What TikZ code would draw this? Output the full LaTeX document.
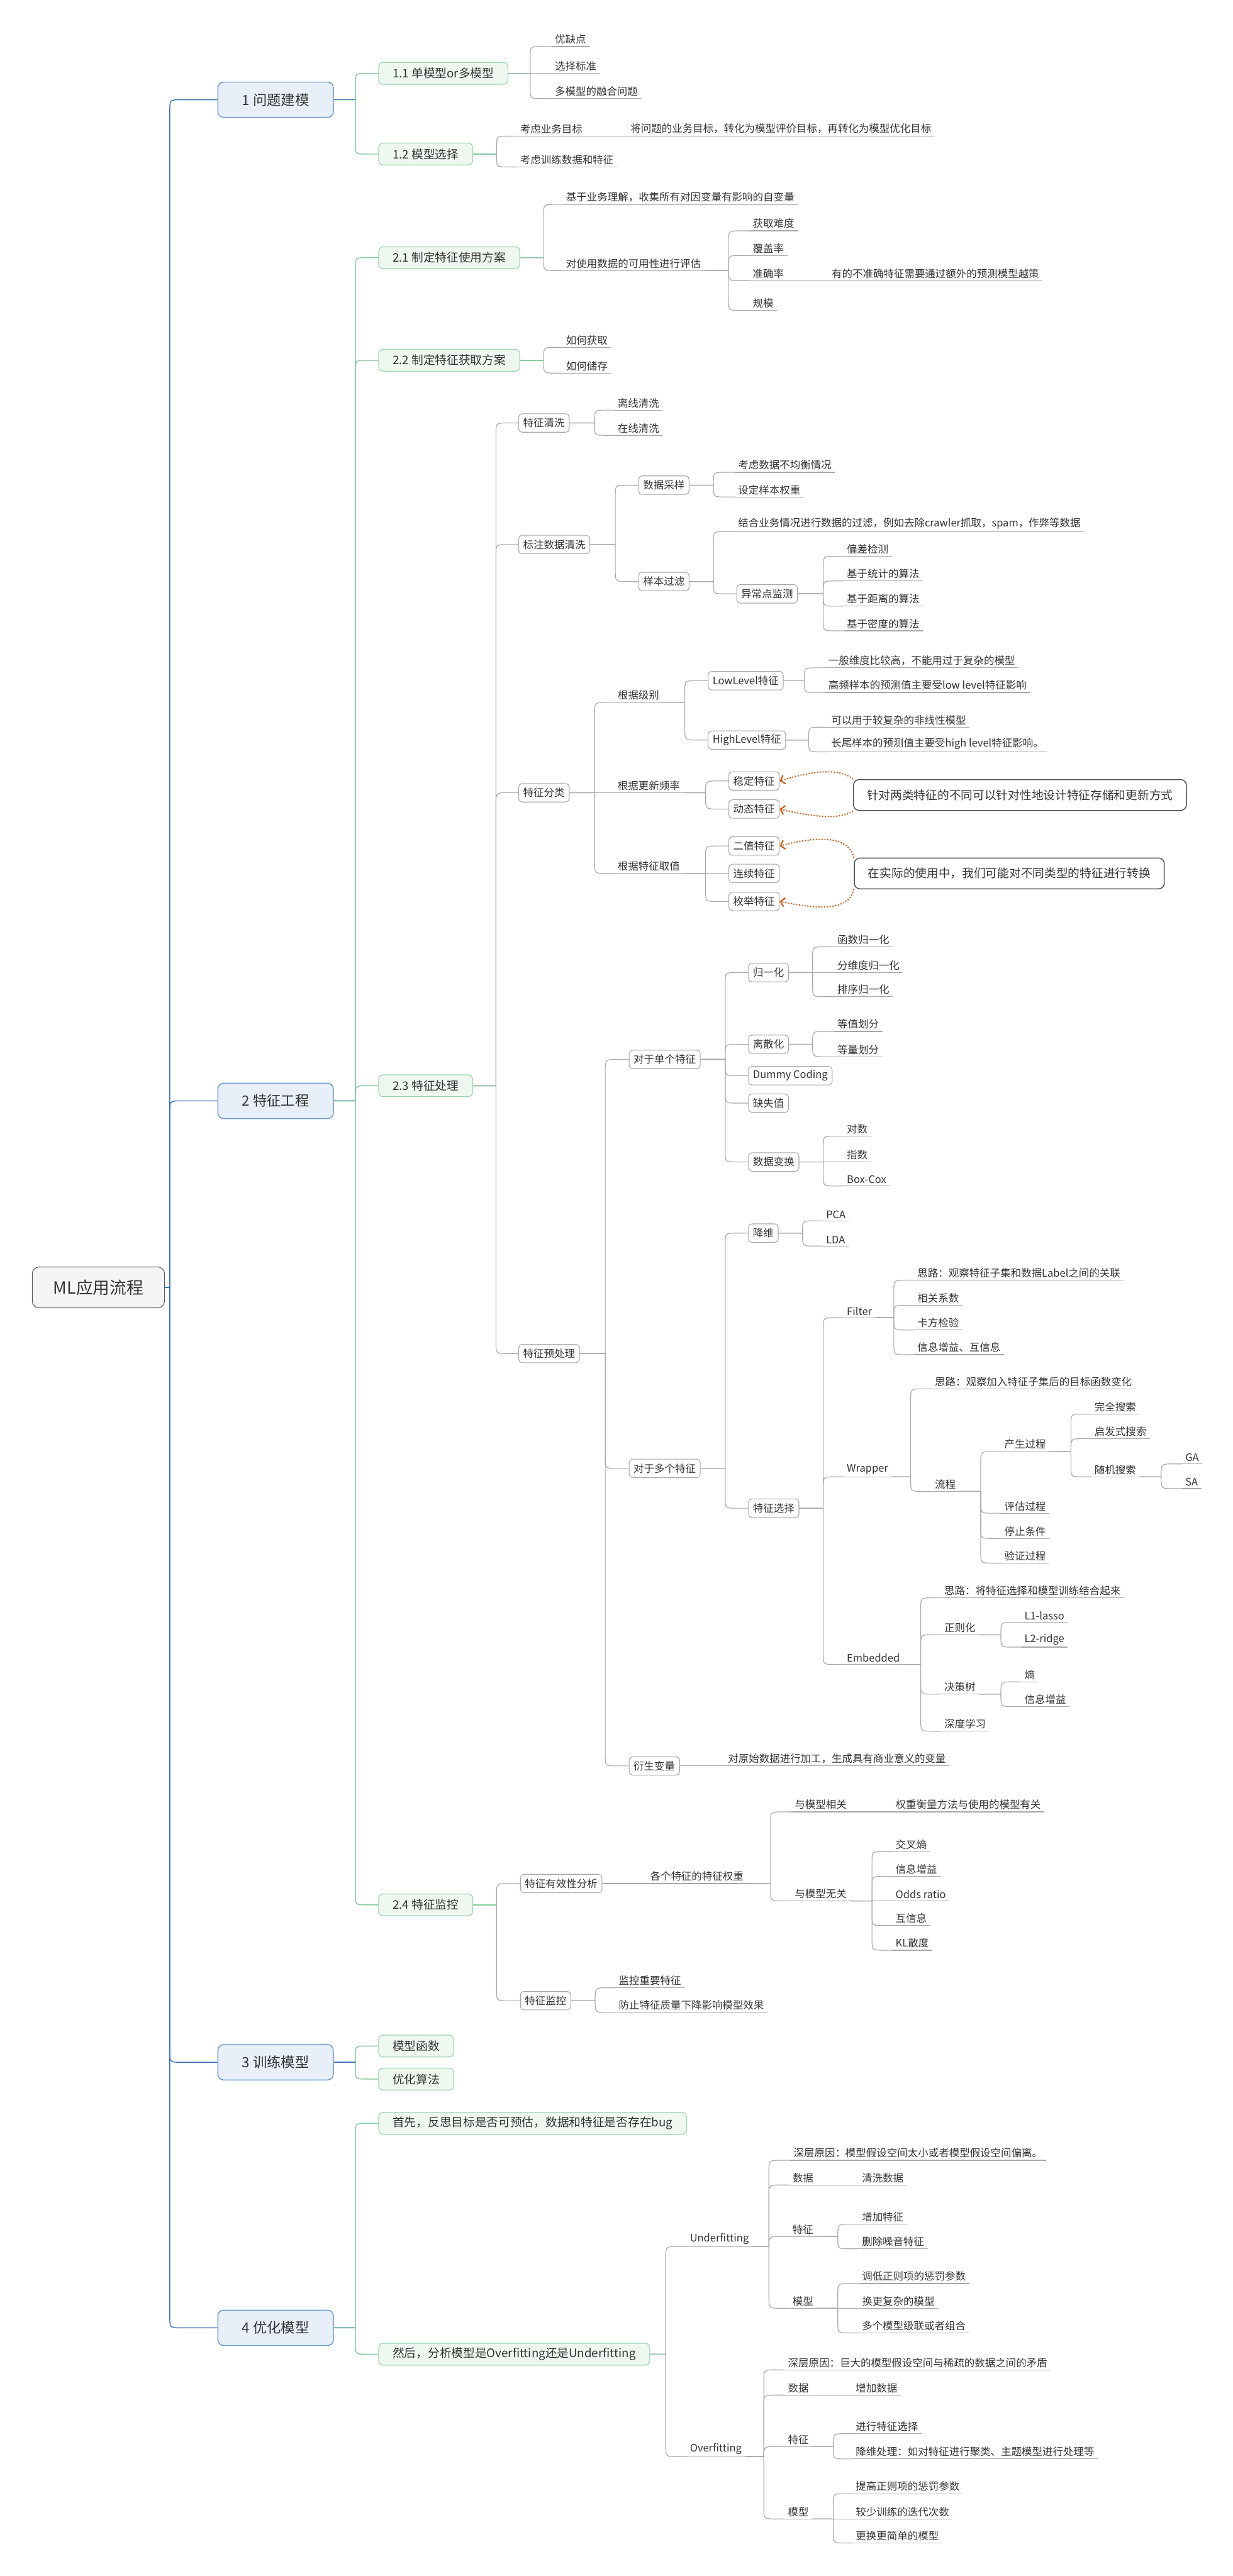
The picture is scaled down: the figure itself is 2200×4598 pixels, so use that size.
\documentclass[tikz,border=0pt]{standalone}
\usepackage{fontspec}
\setmainfont{Noto Sans CJK SC}
\usetikzlibrary{calc,arrows.meta}
\definecolor{blueln}{HTML}{3C74B8}
\definecolor{bluebd}{HTML}{6A98CF}
\definecolor{bluefill}{HTML}{E8EFF8}
\definecolor{greenln}{HTML}{86C9A0}
\definecolor{greenbd}{HTML}{9AD6AE}
\definecolor{greenfill}{HTML}{EFF8F0}
\definecolor{grayln}{HTML}{A8A8A8}
\definecolor{txt}{HTML}{333333}
\definecolor{orangeln}{HTML}{CC5A14}
\newcommand{\myfs}[1]{\fontsize{#1pt}{#1pt}\selectfont}
\newcommand{\mystub}[3]{\draw[#1] let \p1=(#2) in (\p1) -- ({#3pt},{\y1});}
\tikzset{
 rootbox/.style={draw=black!65, fill=black!4, rounded corners=12pt, line width=1.2pt, anchor=west, minimum width=236pt, minimum height=73pt, inner sep=0pt, font=\myfs{30}, text=txt},
 lone/.style={draw=bluebd, fill=bluefill, rounded corners=10pt, line width=1.6pt, anchor=west, minimum width=206pt, minimum height=63pt, inner sep=0pt, font=\myfs{25}, text=txt},
 ltwo/.style={draw=greenbd, fill=greenfill, rounded corners=8pt, line width=1.4pt, anchor=west, minimum height=39pt, inner xsep=25pt, inner ysep=0pt, font=\myfs{21}, text=txt},
 gbox/.style={draw=black!35, fill=white, rounded corners=6pt, line width=1.2pt, anchor=west, minimum height=33pt, inner xsep=8pt, inner ysep=0pt, font=\myfs{18.5}, text=txt},
 ul/.style={anchor=south west, inner xsep=6pt, inner ysep=4pt, font=\myfs{18.5}, text=txt},
 callout/.style={draw=black!70, fill=white, rounded corners=10pt, line width=1.6pt, font=\myfs{21}, text=txt, minimum height=55pt, inner xsep=20pt},
 bl/.style={draw=blueln, line width=2pt},
 gr/.style={draw=greenln, line width=1.6pt},
 gy/.style={draw=grayln, line width=1.3pt},
 callarr/.style={draw=orangeln, line width=2.2pt, dash pattern=on 2.2pt off 2.8pt, -{Straight Barb[length=7pt,width=16pt,line width=2.4pt]}},
 br/.style={to path={let \p1=(\tikztostart), \p2=(\tikztotarget), \n1={abs(\y2-\y1)<2 ? 0 : (\y2<\y1 ? 20 : -20)} in -- ({#1pt},{\y1}) -- ({#1pt},{\y2+\n1*1pt}) .. controls ({#1pt},{\y2}) .. ({#1pt+20pt},{\y2}) -- (\tikztotarget)}}
}
\begin{document}
\begin{tikzpicture}[x=1pt,y=-1pt]
\fill[white] (0,0) rectangle (2200,4598);
\useasboundingbox (0,0) rectangle (2200,4598);

% root and level 1
\node[rootbox] (root) at (57,2298) {ML应用流程};
\node[lone] (n1) at (388,178) {1 问题建模};
\node[lone] (n2) at (388,1965) {2 特征工程};
\node[lone] (n3) at (388,3681) {3 训练模型};
\node[lone] (n4) at (388,4155) {4 优化模型};

% level 2
\node[ltwo] (n11) at (675,131) {1.1 单模型or多模型};
\node[ltwo] (n12) at (675,275) {1.2 模型选择};
\node[ltwo] (n21) at (675,460) {2.1 制定特征使用方案};
\node[ltwo] (n22) at (675,643) {2.2 制定特征获取方案};
\node[ltwo] (n23) at (675,1938) {2.3 特征处理};
\node[ltwo] (n24) at (675,3400) {2.4 特征监控};
\node[ltwo] (n31) at (675,3652) {模型函数};
\node[ltwo] (n32) at (675,3711) {优化算法};
\node[ltwo] (n41) at (675,3790) {首先，反思目标是否可预估，数据和特征是否存在bug};
\node[ltwo] (n42) at (675,4202) {然后，分析模型是Overfitting还是Underfitting};

% 1.x children
\node[ul] (a1) at (984,83) {优缺点};
\node[ul] (a2) at (984,131) {选择标准};
\node[ul] (a3) at (984,176) {多模型的融合问题};
\node[ul] (b1) at (922,243) {考虑业务目标};
\node[ul] (b11) at (1119,243) {将问题的业务目标，转化为模型评价目标，再转化为模型优化目标};
\node[ul] (b2) at (922,298) {考虑训练数据和特征};

% 2.1 / 2.2
\node[ul] (c1) at (1004,365) {基于业务理解，收集所有对因变量有影响的自变量};
\node[ul] (c2) at (1004,483) {对使用数据的可用性进行评估};
\node[ul] (c21) at (1337,412) {获取难度};
\node[ul] (c22) at (1337,456) {覆盖率};
\node[ul] (c23) at (1337,501) {准确率};
\node[ul] (c231) at (1478,501) {有的不准确特征需要通过额外的预测模型越策};
\node[ul] (c24) at (1337,554) {规模};
\node[ul] (d1) at (1004,620) {如何获取};
\node[ul] (d2) at (1004,666) {如何储存};

% 2.3
\node[gbox] (e1) at (925,755) {特征清洗};
\node[gbox] (e2) at (925,972) {标注数据清洗};
\node[gbox] (e3) at (925,1415) {特征分类};
\node[gbox] (e4) at (925,2416) {特征预处理};
\node[ul] (e11) at (1096,732) {离线清洗};
\node[ul] (e12) at (1096,777) {在线清洗};
\node[gbox] (e21) at (1139,866) {数据采样};
\node[gbox] (e22) at (1139,1038) {样本过滤};
\node[ul] (e211) at (1311,843) {考虑数据不均衡情况};
\node[ul] (e212) at (1311,887) {设定样本权重};
\node[ul] (e221) at (1311,949) {结合业务情况进行数据的过滤，例如去除crawler抓取，spam，作弊等数据};
\node[gbox] (e222) at (1314,1060) {异常点监测};
\node[ul] (e2221) at (1505,993) {偏差检测};
\node[ul] (e2222) at (1505,1037) {基于统计的算法};
\node[ul] (e2223) at (1505,1082) {基于距离的算法};
\node[ul] (e2224) at (1505,1126) {基于密度的算法};

\node[ul] (f1) at (1096,1254) {根据级别};
\node[ul] (f2) at (1096,1415) {根据更新频率};
\node[ul] (f3) at (1096,1559) {根据特征取值};
\node[gbox] (f11) at (1263,1215) {LowLevel特征};
\node[gbox] (f12) at (1263,1321) {HighLevel特征};
\node[ul] (f111) at (1472,1192) {一般维度比较高，不能用过于复杂的模型};
\node[ul] (f112) at (1472,1236) {高频样本的预测值主要受low level特征影响};
\node[ul] (f121) at (1477,1298) {可以用于较复杂的非线性模型};
\node[ul] (f122) at (1477,1342) {长尾样本的预测值主要受high level特征影响。};
\node[gbox] (f21) at (1300,1394) {稳定特征};
\node[gbox] (f22) at (1300,1444) {动态特征};
\node[gbox] (f31) at (1300,1510) {二值特征};
\node[gbox] (f32) at (1300,1559) {连续特征};
\node[gbox] (f33) at (1300,1609) {枚举特征};
\node[callout, minimum width=594pt] (co1) at (1820,1419) {针对两类特征的不同可以针对性地设计特征存储和更新方式};
\node[callout, minimum width=553pt] (co2) at (1801,1559) {在实际的使用中，我们可能对不同类型的特征进行转换};

\node[gbox] (g1) at (1122,1891) {对于单个特征};
\node[gbox] (g2) at (1122,2621) {对于多个特征};
\node[gbox] (g3) at (1122,3152) {衍生变量};
\node[gbox] (g11) at (1335,1736) {归一化};
\node[gbox] (g12) at (1335,1864) {离散化};
\node[gbox] (g13) at (1335,1920) {Dummy Coding};
\node[gbox] (g14) at (1335,1969) {缺失值};
\node[gbox] (g15) at (1335,2074) {数据变换};
\node[ul] (g111) at (1488,1690) {函数归一化};
\node[ul] (g112) at (1488,1736) {分维度归一化};
\node[ul] (g113) at (1488,1779) {排序归一化};
\node[ul] (g121) at (1488,1841) {等值划分};
\node[ul] (g122) at (1488,1886) {等量划分};
\node[ul] (g151) at (1505,2028) {对数};
\node[ul] (g152) at (1505,2074) {指数};
\node[ul] (g153) at (1505,2117) {Box-Cox};
\node[gbox] (g21) at (1335,2201) {降维};
\node[gbox] (g22) at (1335,2692) {特征选择};
\node[ul] (g211) at (1468,2179) {PCA};
\node[ul] (g212) at (1468,2224) {LDA};
\node[ul] (h1) at (1505,2352) {Filter};
\node[ul] (h2) at (1505,2636) {Wrapper};
\node[ul] (h3) at (1505,2971) {Embedded};
\node[ul] (h11) at (1631,2285) {思路：观察特征子集和数据Label之间的关联};
\node[ul] (h12) at (1631,2330) {相关系数};
\node[ul] (h13) at (1631,2374) {卡方检验};
\node[ul] (h14) at (1631,2418) {信息增益、互信息};
\node[ul] (h21) at (1662,2479) {思路：观察加入特征子集后的目标函数变化};
\node[ul] (h22) at (1662,2662) {流程};
\node[ul] (h221) at (1786,2591) {产生过程};
\node[ul] (h222) at (1786,2701) {评估过程};
\node[ul] (h223) at (1786,2746) {停止条件};
\node[ul] (h224) at (1786,2790) {验证过程};
\node[ul] (h2211) at (1947,2524) {完全搜索};
\node[ul] (h2212) at (1947,2568) {启发式搜索};
\node[ul] (h2213) at (1947,2636) {随机搜索};
\node[ul] (ga) at (2109,2613) {GA};
\node[ul] (sa) at (2109,2657) {SA};
\node[ul] (h31) at (1679,2852) {思路：将特征选择和模型训练结合起来};
\node[ul] (h32) at (1679,2918) {正则化};
\node[ul] (h33) at (1679,3024) {决策树};
\node[ul] (h34) at (1679,3090) {深度学习};
\node[ul] (h321) at (1822,2896) {L1-lasso};
\node[ul] (h322) at (1822,2940) {L2-ridge};
\node[ul] (h331) at (1822,3002) {熵};
\node[ul] (h332) at (1822,3046) {信息增益};
\node[ul] (g31) at (1293,3152) {对原始数据进行加工，生成具有商业意义的变量};

% 2.4
\node[gbox] (i1) at (928,3362) {特征有效性分析};
\node[gbox] (i2) at (928,3571) {特征监控};
\node[ul] (i11) at (1154,3362) {各个特征的特征权重};
\node[ul] (i111) at (1412,3234) {与模型相关};
\node[ul] (i1111) at (1592,3234) {权重衡量方法与使用的模型有关};
\node[ul] (i112) at (1412,3393) {与模型无关};
\node[ul] (i1121) at (1592,3305) {交叉熵};
\node[ul] (i1122) at (1592,3349) {信息增益};
\node[ul] (i1123) at (1592,3393) {Odds ratio};
\node[ul] (i1124) at (1592,3437) {互信息};
\node[ul] (i1125) at (1592,3481) {KL散度};
\node[ul] (i21) at (1098,3548) {监控重要特征};
\node[ul] (i22) at (1098,3592) {防止特征质量下降影响模型效果};

% 4
\node[ul] (j1) at (1225,4010) {Underfitting};
\node[ul] (j2) at (1225,4385) {Overfitting};
\node[ul] (j11) at (1410,3856) {深层原因：模型假设空间太小或者模型假设空间偏离。};
\node[ul] (j12) at (1408,3900) {数据};
\node[ul] (j121) at (1532,3900) {清洗数据};
\node[ul] (j13) at (1408,3992) {特征};
\node[ul] (j131) at (1532,3970) {增加特征};
\node[ul] (j132) at (1532,4014) {删除噪音特征};
\node[ul] (j14) at (1408,4120) {模型};
\node[ul] (j141) at (1532,4076) {调低正则项的惩罚参数};
\node[ul] (j142) at (1532,4120) {换更复杂的模型};
\node[ul] (j143) at (1532,4164) {多个模型级联或者组合};
\node[ul] (j21) at (1400,4230) {深层原因：巨大的模型假设空间与稀疏的数据之间的矛盾};
\node[ul] (j22) at (1400,4275) {数据};
\node[ul] (j221) at (1521,4275) {增加数据};
\node[ul] (j23) at (1400,4367) {特征};
\node[ul] (j231) at (1521,4344) {进行特征选择};
\node[ul] (j232) at (1521,4389) {降维处理：如对特征进行聚类、主题模型进行处理等};
\node[ul] (j24) at (1400,4496) {模型};
\node[ul] (j241) at (1521,4451) {提高正则项的惩罚参数};
\node[ul] (j242) at (1521,4496) {较少训练的迭代次数};
\node[ul] (j243) at (1521,4539) {更换更简单的模型};

% underlines
\foreach \q in {a1,a2,a3,b1,b11,b2,c1,c2,c21,c22,c23,c231,c24,d1,d2,e11,e12,e211,e212,e221,e2221,e2222,e2223,e2224,f1,f2,f3,f111,f112,f121,f122,g111,g112,g113,g121,g122,g151,g152,g153,g211,g212,h1,h2,h3,h11,h12,h13,h14,h21,h22,h221,h222,h223,h224,h2211,h2212,h2213,ga,sa,h31,h32,h33,h34,h321,h322,h331,h332,g31,i11,i111,i1111,i112,i1121,i1122,i1123,i1124,i1125,i21,i22,j1,j2,j11,j12,j121,j13,j131,j132,j14,j141,j142,j143,j21,j22,j221,j23,j231,j232,j24,j241,j242,j243}
  {\draw[gy] (\q.south west) -- (\q.south east);}

% root connectors
\foreach \c in {n1,n2,n3,n4} {\draw[bl, line width=1.6pt] (root.east) to[br=303] (\c.west);}
% level 1 -> level 2
\foreach \c in {n11,n12} {\draw[gr] (n1.east) to[br=634] (\c.west);}
\foreach \c in {n21,n22,n23,n24} {\draw[gr] (n2.east) to[br=634] (\c.west);}
\foreach \c in {n31,n32} {\draw[gr] (n3.east) to[br=634] (\c.west);}
\foreach \c in {n41,n42} {\draw[gr] (n4.east) to[br=634] (\c.west);}
\mystub{bl}{n1.east}{634}
\mystub{bl}{n2.east}{634}
\mystub{bl}{n3.east}{634}
\mystub{bl}{n4.east}{634}

% gray connectors
\foreach \c in {a1,a2,a3} {\draw[gy] (n11.east) to[br=946] (\c.south west);}
\foreach \c in {b1,b2} {\draw[gy] (n12.east) to[br=886] (\c.south west);}
\draw[gy] (b1.south east) -- (b11.south west);
\foreach \c in {c1,c2} {\draw[gy] (n21.east) to[br=970] (\c.south west);}
\foreach \c in {c21,c22,c23,c24} {\draw[gy] (c2.south east) to[br=1300] (\c.south west);}
\draw[gy] (c23.south east) -- (c231.south west);
\foreach \c in {d1,d2} {\draw[gy] (n22.east) to[br=970] (\c.south west);}
\foreach \c in {e1,e2,e3,e4} {\draw[gy] (n23.east) to[br=885] (\c.west);}
\foreach \c in {e11,e12} {\draw[gy] (e1.east) to[br=1061] (\c.south west);}
\foreach \c in {e21,e22} {\draw[gy] (e2.east) to[br=1098] (\c.west);}
\foreach \c in {e211,e212} {\draw[gy] (e21.east) to[br=1273] (\c.south west);}
\draw[gy] (e22.east) to[br=1273] (e221.south west);
\draw[gy] (e22.east) to[br=1273] (e222.west);
\foreach \c in {e2221,e2222,e2223,e2224} {\draw[gy] (e222.east) to[br=1469] (\c.south west);}
\foreach \c in {f1,f2,f3} {\draw[gy] (e3.east) to[br=1061] (\c.south west);}
\foreach \c in {f11,f12} {\draw[gy] (f1.south east) to[br=1222] (\c.west);}
\foreach \c in {f111,f112} {\draw[gy] (f11.east) to[br=1435] (\c.south west);}
\foreach \c in {f121,f122} {\draw[gy] (f12.east) to[br=1443] (\c.south west);}
\foreach \c in {f21,f22} {\draw[gy] (f2.south east) to[br=1259] (\c.west);}
\foreach \c in {f31,f32,f33} {\draw[gy] (f3.south east) to[br=1259] (\c.west);}
\foreach \c in {g1,g2,g3} {\draw[gy] (e4.east) to[br=1080] (\c.west);}
\foreach \c in {g11,g12,g13,g14,g15} {\draw[gy] (g1.east) to[br=1294] (\c.west);}
\foreach \c in {g111,g112,g113} {\draw[gy] (g11.east) to[br=1450] (\c.south west);}
\foreach \c in {g121,g122} {\draw[gy] (g12.east) to[br=1450] (\c.south west);}
\foreach \c in {g151,g152,g153} {\draw[gy] (g15.east) to[br=1469] (\c.south west);}
\foreach \c in {g21,g22} {\draw[gy] (g2.east) to[br=1294] (\c.west);}
\foreach \c in {g211,g212} {\draw[gy] (g21.east) to[br=1432] (\c.south west);}
\foreach \c in {h1,h2,h3} {\draw[gy] (g22.east) to[br=1469] (\c.south west);}
\foreach \c in {h11,h12,h13,h14} {\draw[gy] (h1.south east) to[br=1595] (\c.south west);}
\foreach \c in {h21,h22} {\draw[gy] (h2.south east) to[br=1625] (\c.south west);}
\foreach \c in {h221,h222,h223,h224} {\draw[gy] (h22.south east) to[br=1750] (\c.south west);}
\foreach \c in {h2211,h2212,h2213} {\draw[gy] (h221.south east) to[br=1911] (\c.south west);}
\foreach \c in {ga,sa} {\draw[gy] (h2213.south east) to[br=2072] (\c.south west);}
\foreach \c in {h31,h32,h33,h34} {\draw[gy] (h3.south east) to[br=1643] (\c.south west);}
\foreach \c in {h321,h322} {\draw[gy] (h32.south east) to[br=1786] (\c.south west);}
\foreach \c in {h331,h332} {\draw[gy] (h33.south east) to[br=1786] (\c.south west);}
\draw[gy] (g3.east) -- (g31.south west);
\foreach \c in {i1,i2} {\draw[gy] (n24.east) to[br=886] (\c.west);}
\draw[gy] (i1.east) -- (i11.south west);
\foreach \c in {i111,i112} {\draw[gy] (i11.south east) to[br=1375] (\c.south west);}
\draw[gy] (i111.south east) -- (i1111.south west);
\foreach \c in {i1121,i1122,i1123,i1124,i1125} {\draw[gy] (i112.south east) to[br=1556] (\c.south west);}
\foreach \c in {i21,i22} {\draw[gy] (i2.east) to[br=1062] (\c.south west);}
\foreach \c in {j1,j2} {\draw[gy] (n42.east) to[br=1188] (\c.south west);}
\foreach \c in {j11,j12,j13,j14} {\draw[gy] (j1.south east) to[br=1372] (\c.south west);}
\draw[gy] (j12.south east) -- (j121.south west);
\foreach \c in {j131,j132} {\draw[gy] (j13.south east) to[br=1495] (\c.south west);}
\foreach \c in {j141,j142,j143} {\draw[gy] (j14.south east) to[br=1495] (\c.south west);}
\foreach \c in {j21,j22,j23,j24} {\draw[gy] (j2.south east) to[br=1363] (\c.south west);}
\draw[gy] (j22.south east) -- (j221.south west);
\foreach \c in {j231,j232} {\draw[gy] (j23.south east) to[br=1487] (\c.south west);}
\foreach \c in {j241,j242,j243} {\draw[gy] (j24.south east) to[br=1487] (\c.south west);}

% green stubs
\mystub{gr}{n11.east}{946}
\mystub{gr}{n12.east}{886}
\mystub{gr}{n21.east}{970}
\mystub{gr}{n22.east}{970}
\mystub{gr}{n23.east}{885}
\mystub{gr}{n24.east}{886}
\mystub{gr}{n42.east}{1188}

% callout arrows
\draw[callarr] (co1.north west) .. controls +(-25,-22) and +(50,-16) .. (f21.east);
\draw[callarr] (co1.south west) .. controls +(-25,18) and +(50,12) .. (f22.east);
\draw[callarr] (co2.north west) .. controls +(-10,-42) and +(60,-16) .. (f31.east);
\draw[callarr] (co2.south west) .. controls +(-10,42) and +(60,12) .. (f33.east);
\end{tikzpicture}
\end{document}
